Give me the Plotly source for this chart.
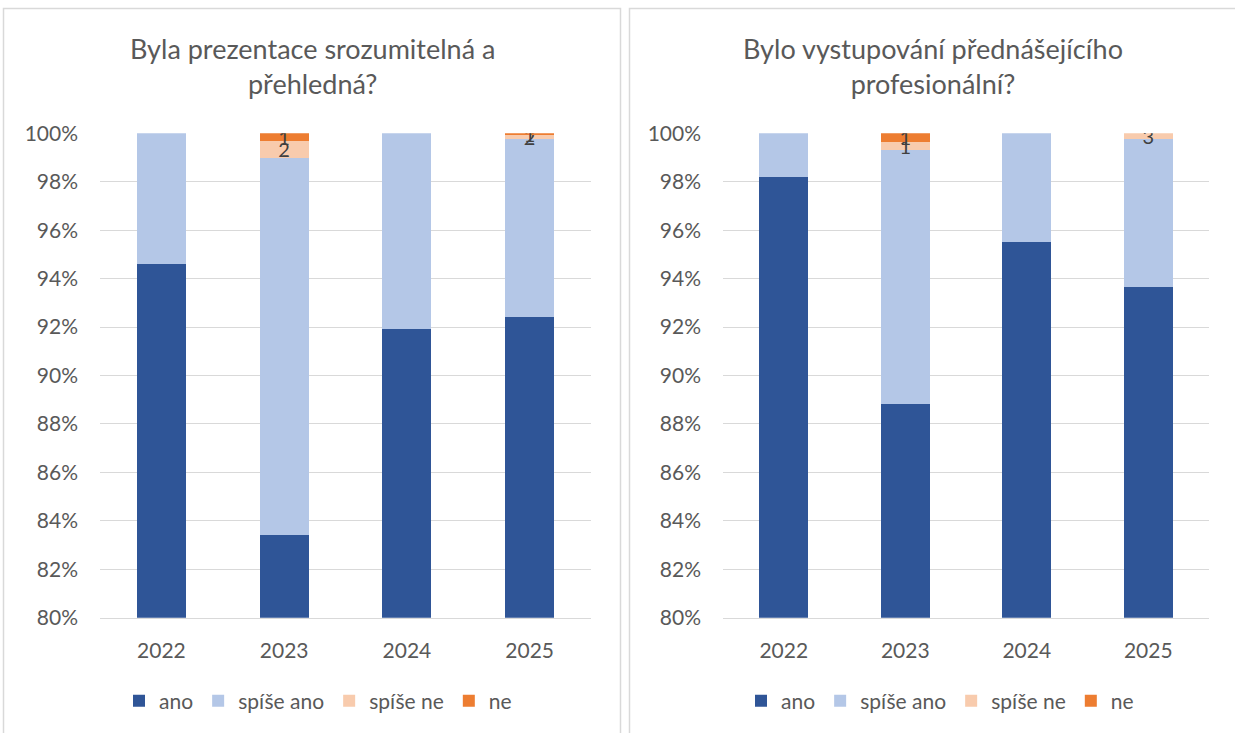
import plotly.graph_objects as go

W, H = 1235, 733

years = ["2022", "2023", "2024", "2025"]
series_names = ["ano", "spíše ano", "spíše ne", "ne"]
colors = ["#2F5597", "#B4C7E7", "#F8CBAD", "#ED7D31"]

# Chart 1: Byla prezentace srozumitelná a přehledná?  (shares, %)
left_ano = [94.62, 83.43, 91.90, 92.42]
left_spise_ano = [5.38, 15.57, 8.10, 7.33]
left_spise_ne = [0.0, 0.67, 0.0, 0.17]
left_ne = [0.0, 0.33, 0.0, 0.08]
left_labels_spise_ne = ["", "2", "", "2"]
left_labels_ne = ["", "1", "", "1"]

# Chart 2: Bylo vystupování přednášejícího profesionální?  (shares, %)
right_ano = [98.18, 88.84, 95.50, 93.64]
right_spise_ano = [1.82, 10.49, 4.50, 6.11]
right_spise_ne = [0.0, 0.33, 0.0, 0.25]
right_ne = [0.0, 0.34, 0.0, 0.0]
right_labels_spise_ne = ["", "1", "", "3"]
right_labels_ne = ["", "1", "", ""]

left_title = "Byla prezentace srozumitelná a<br>přehledná?"
right_title = "Bylo vystupování přednášejícího<br>profesionální?"

FONT = "Lato"
GRAY = "#595959"
GRID = "#D9D9D9"

fig = go.Figure()

def add_chart(vals, labels, xa, ya, legend):
    for name, color, v, lab in zip(series_names, colors, vals, labels):
        fig.add_trace(go.Bar(
            x=years, y=[x / 100 for x in v], name=name,
            marker=dict(color=color, line=dict(width=0)),
            xaxis=xa, yaxis=ya, legend=legend,
            text=lab if lab is not None else None,
            textposition="inside" if lab is not None else "none",
            insidetextanchor="middle", textangle=0,
            insidetextfont=dict(color="#404040", size=20, family=FONT),
            hoverinfo="skip",
        ))

add_chart([left_ano, left_spise_ano, left_spise_ne, left_ne],
          [None, None, left_labels_spise_ne, left_labels_ne], "x", "y", "legend")
add_chart([right_ano, right_spise_ano, right_spise_ne, right_ne],
          [None, None, right_labels_spise_ne, right_labels_ne], "x2", "y2", "legend2")

ydom = [1 - 617.7 / H, 1 - 133.3 / H]
xax = dict(type="category", showgrid=False, showline=True, linecolor=GRID, linewidth=1,
           tickfont=dict(family=FONT, size=21, color=GRAY), ticks="", ticklabelstandoff=14)
yax = dict(range=[0.8, 1.0], dtick=0.02, tickformat=".0%", showgrid=True, gridcolor=GRID,
           gridwidth=1, zeroline=False, showline=False, ticks="",
           tickfont=dict(family=FONT, size=21, color=GRAY), ticklabelstandoff=21)

leg = dict(orientation="h", font=dict(family=FONT, size=21, color=GRAY),
           yanchor="middle", xanchor="center", bgcolor="rgba(0,0,0,0)",
           itemclick=False, traceorder="normal")

fig.update_layout(
    width=W, height=H, margin=dict(l=0, r=0, t=0, b=0, autoexpand=False),
    paper_bgcolor="white", plot_bgcolor="white",
    barmode="stack", bargap=0.6,
    uniformtext=dict(minsize=20, mode="show"),
    font=dict(family=FONT, color=GRAY),
    xaxis=dict(domain=[100 / W, 591 / W], anchor="y", **xax),
    yaxis=dict(domain=ydom, anchor="x", **yax),
    xaxis2=dict(domain=[723 / W, 1209 / W], anchor="y2", **xax),
    yaxis2=dict(domain=ydom, anchor="x2", **yax),
    legend=dict(x=318 / W, y=1 - 701 / H, **leg),
    legend2=dict(x=940 / W, y=1 - 701 / H, **leg),
    annotations=[
        dict(text=left_title, x=312 / W, y=1 - 66 / H, xref="paper", yref="paper",
             xanchor="center", yanchor="middle",
             showarrow=False, font=dict(family=FONT, size=27, color=GRAY), align="center"),
        dict(text=right_title, x=933 / W, y=1 - 66 / H, xref="paper", yref="paper",
             xanchor="center", yanchor="middle",
             showarrow=False, font=dict(family=FONT, size=27, color=GRAY), align="center"),
    ],
    shapes=[
        dict(type="rect", xref="paper", yref="paper", x0=3.5 / W, x1=620.5 / W,
             y0=-0.05, y1=1 - 8.5 / H, line=dict(color=GRID, width=1.5), layer="below"),
        dict(type="rect", xref="paper", yref="paper", x0=629.5 / W, x1=1.05,
             y0=-0.05, y1=1 - 8.5 / H, line=dict(color=GRID, width=1.5), layer="below"),
    ],
)

fig.write_html("out.html",
               config={"displayModeBar": False},
               post_script="document.body.style.margin='0';document.body.style.overflow='hidden';")
